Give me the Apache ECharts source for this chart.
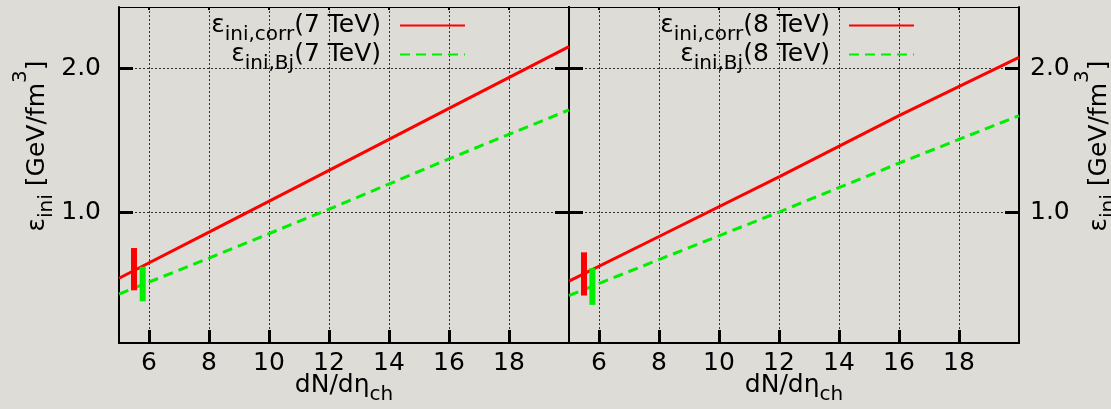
<!DOCTYPE html>
<html><head><meta charset="utf-8">
<script src="https://cdn.jsdelivr.net/npm/echarts@6/dist/echarts.min.js"></script>
<style>html,body{margin:0;padding:0;background:#dedcd7}#c{width:1111px;height:409px}</style>
</head><body><div id="c"></div>
<script>
// ---- data ----
const xTicks = [6, 8, 10, 12, 14, 16, 18];
const yTicks = [1.0, 2.0];
const dNdEta = [5, 8, 12, 16, 20];
const epsCorr7 = [0.54, 0.86, 1.29, 1.72, 2.15];
const epsBj7   = [0.43, 0.68, 1.02, 1.37, 1.71];
const epsCorr8 = [0.52, 0.83, 1.245, 1.67, 2.075];
const epsBj8   = [0.42, 0.67, 1.00, 1.34, 1.67];
// measured points with uncertainty bars: [dN/dη, low, high]
const barCorr7 = [5.5, 0.456, 0.75];
const barBj7   = [5.79, 0.38, 0.62];
const barCorr8 = [5.5, 0.42, 0.72];
const barBj8   = [5.78, 0.355, 0.61];
const names = {
  corr7: 'ε_ini,corr(7 TeV)', bj7: 'ε_ini,Bj(7 TeV)',
  corr8: 'ε_ini,corr(8 TeV)', bj8: 'ε_ini,Bj(8 TeV)'
};
const legendRich = {
  'ε_ini,corr(7 TeV)': '{e|ε}{s|ini,corr}{n|(7 TeV)}',
  'ε_ini,Bj(7 TeV)': '{e|ε}{s|ini,Bj}{n|(7 TeV)}',
  'ε_ini,corr(8 TeV)': '{e|ε}{s|ini,corr}{n|(8 TeV)}',
  'ε_ini,Bj(8 TeV)': '{e|ε}{s|ini,Bj}{n|(8 TeV)}'
};

const F = 'DejaVu Sans';
const RED = '#ff0000', GREEN = '#00ee00';
const zip = (xs, ys) => xs.map((x, i) => [x, ys[i]]);
const bar = b => [[b[0], b[1]], [b[0], b[2]]];

const legendTextRich = {
  e: {fontSize: 25, fontFamily: F, color: '#000', lineHeight: 30},
  s: {fontSize: 20, fontFamily: F, color: '#000', lineHeight: 30, padding: [19, 0, 0, 0]},
  n: {fontSize: 25, fontFamily: F, color: '#000', lineHeight: 30, padding: [0, 14, 0, 0]}
};
const nameRich = {
  e: {fontSize: 25, fontFamily: F, color: '#000', lineHeight: 30},
  n: {fontSize: 25, fontFamily: F, color: '#000', lineHeight: 30},
  s: {fontSize: 20, fontFamily: F, color: '#000', lineHeight: 30, padding: [19, 0, 0, 0]},
  p: {fontSize: 20, fontFamily: F, color: '#000', lineHeight: 30, padding: [0, 0, 32, 0]}
};
const xNameStyle = {fontFamily: F, fontSize: 25, color: '#000', lineHeight: 30, rich: nameRich};
const yNameStyle = {fontFamily: F, fontSize: 25, color: '#000', lineHeight: 30, rich: nameRich, padding: [0, 0, 0, 58]};
const xName = '{n|dN/dη}{s|ch}';
const yName = '{e|ε}{s|ini}{n| [GeV/fm}{p|3}{n|]}';
const labelStyle = {fontSize: 25, fontFamily: F, color: '#000', lineHeight: 25};
const gridLine = {show: true, lineStyle: {color: '#333', width: 1, type: [2, 2]}};

function xMain(gi) {
  return {
    type: 'value', gridIndex: gi, position: 'bottom', min: 5, max: 20,
    axisLine: {onZero: false, lineStyle: {color: '#000', width: 2}},
    axisTick: {inside: true, length: 13, customValues: xTicks, lineStyle: {color: '#000', width: 3}},
    axisLabel: Object.assign({customValues: xTicks, margin: 8}, labelStyle),
    splitLine: gridLine,
    name: xName, nameLocation: 'middle', nameGap: 27, nameMoveOverlap: false, nameTextStyle: xNameStyle
  };
}
function xTop(gi) {
  return {
    type: 'value', gridIndex: gi, position: 'top', min: 5, max: 20,
    axisLine: {onZero: false, lineStyle: {color: '#000', width: 1}},
    axisTick: {inside: true, length: 3, customValues: xTicks, lineStyle: {color: '#000', width: 2}},
    axisLabel: {show: false}, splitLine: {show: false}
  };
}
function yAx(gi, pos, labels, withGrid) {
  const a = {
    type: 'value', gridIndex: gi, position: pos, min: 0.09, max: 2.425,
    axisLine: {show: true, onZero: false, lineStyle: {color: '#000', width: 2}},
    axisTick: {show: true, inside: true, length: 14, customValues: yTicks, lineStyle: {color: '#000', width: 3}},
    axisLabel: labels ? Object.assign({customValues: yTicks, margin: pos === 'left' ? 18 : 11,
      formatter: v => Number(v).toFixed(1)}, labelStyle) : {show: false},
    splitLine: withGrid ? gridLine : {show: false}
  };
  if (labels) {
    a.name = yName; a.nameLocation = 'middle'; a.nameRotate = 90; a.nameMoveOverlap = false;
    a.nameGap = pos === 'left' ? 67 : 65; a.nameTextStyle = yNameStyle;
  }
  return a;
}
function lineSeries(name, xi, yi, data, color, dashed) {
  return {
    name, type: 'line', xAxisIndex: xi, yAxisIndex: yi, data, symbol: 'none', showSymbol: false,
    color, lineStyle: {color, width: 3, type: dashed ? [10, 6] : 'solid'}, z: 3, silent: true
  };
}
function barSeries(xi, yi, data, color) {
  return {
    type: 'line', xAxisIndex: xi, yAxisIndex: yi, data, symbol: 'none', showSymbol: false,
    lineStyle: {color, width: 6, cap: 'butt'}, z: 4, silent: true
  };
}
function legendFor(list, right) {
  return {
    data: list, orient: 'vertical', align: 'right', right, top: 6, padding: 0, itemGap: -10,
    itemWidth: 65, itemHeight: 4, selectedMode: false, itemStyle: {opacity: 0},
    formatter: n => legendRich[n],
    textStyle: {fontFamily: F, fontSize: 25, color: '#000', lineHeight: 30, rich: legendTextRich}
  };
}

const chart = echarts.init(document.getElementById('c'), null, {renderer: 'canvas'});
chart.setOption({
  backgroundColor: '#dedcd7',
  animation: false,
  grid: [
    {left: 119, top: 7, width: 450, height: 336, containLabel: false, outerBoundsMode: 'none'},
    {left: 569, top: 7, width: 450, height: 336, containLabel: false, outerBoundsMode: 'none'}
  ],
  xAxis: [xMain(0), xTop(0), xMain(1), xTop(1)],
  yAxis: [yAx(0, 'left', true, true), yAx(0, 'right', false, false),
          yAx(1, 'left', false, false), yAx(1, 'right', true, true)],
  legend: [legendFor([names.corr7, names.bj7], 645), legendFor([names.corr8, names.bj8], 196)],
  series: [
    lineSeries(names.corr7, 0, 0, zip(dNdEta, epsCorr7), RED, false),
    lineSeries(names.bj7, 0, 0, zip(dNdEta, epsBj7), GREEN, true),
    lineSeries(names.corr8, 2, 3, zip(dNdEta, epsCorr8), RED, false),
    lineSeries(names.bj8, 2, 3, zip(dNdEta, epsBj8), GREEN, true),
    barSeries(0, 0, bar(barCorr7), RED),
    barSeries(0, 0, bar(barBj7), GREEN),
    barSeries(2, 3, bar(barCorr8), RED),
    barSeries(2, 3, bar(barBj8), GREEN)
  ]
});
</script></body></html>
